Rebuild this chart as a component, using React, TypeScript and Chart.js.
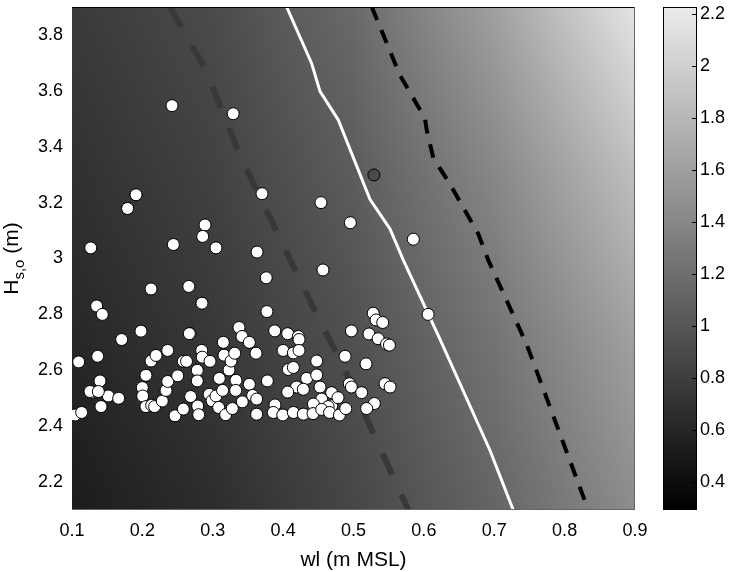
import React, { useEffect, useRef } from "react";
import { Chart, registerables } from "chart.js";
Chart.register(...registerables);

// ---- axes / ticks ----
const X_MIN = 0.1, X_MAX = 0.9;
const Y_MIN = 2.1, Y_MAX = 3.9;
const CB_MIN = 0.292, CB_MAX = 2.227;
const xTicks = [0.1, 0.2, 0.3, 0.4, 0.5, 0.6, 0.7, 0.8, 0.9];
const yTicks = [2.2, 2.4, 2.6, 2.8, 3.0, 3.2, 3.4, 3.6, 3.8];
const cbTicks = [0.4, 0.6, 0.8, 1.0, 1.2, 1.4, 1.6, 1.8, 2.0, 2.2];

// ---- background field (value grid read from the shading) ----
const fieldWl = [0.1, 0.3, 0.5, 0.7, 0.9];
const fieldHs = [2.1, 2.7, 3.3, 3.9];
const fieldRowHs21 = [0.52, 0.66, 0.87, 1.12, 1.45];
const fieldRowHs27 = [0.61, 0.75, 0.95, 1.24, 1.61];
const fieldRowHs33 = [0.69, 0.83, 1.05, 1.40, 1.86];
const fieldRowHs39 = [0.77, 0.91, 1.16, 1.61, 2.17];
const fieldRows = [fieldRowHs21, fieldRowHs27, fieldRowHs33, fieldRowHs39];

// ---- observations (white dots) ----
const obsWl = [
  0.1043, 0.1137, 0.1095, 0.1266, 0.135, 0.143, 0.1365, 0.1398, 0.1256, 0.1412, 0.1516, 0.1663, 0.1706, 0.179, 0.191, 0.198, 0.1374,
  0.2051, 0.1999, 0.2004, 0.2051, 0.2132, 0.2174, 0.2283, 0.2336, 0.236, 0.2123, 0.2194, 0.236, 0.2502, 0.2464, 0.2582, 0.2582, 0.2627,
  0.2677, 0.2686, 0.278, 0.278, 0.2843, 0.2851, 0.2786, 0.28, 0.2961, 0.295, 0.299, 0.3046, 0.3084, 0.3093, 0.314, 0.315, 0.316,
  0.3184, 0.3231, 0.326, 0.3278, 0.3312, 0.333, 0.3326, 0.3373, 0.3416, 0.342, 0.352, 0.352, 0.3567, 0.3615,
  0.377, 0.388, 0.4065, 0.4216, 0.4226, 0.400, 0.4145, 0.4226, 0.4074, 0.4145, 0.3776, 0.4335, 0.4477, 0.4477, 0.4524, 0.419, 0.4287,
  0.4065, 0.3624, 0.3884, 0.4548, 0.469, 0.469, 0.478, 0.464, 0.443, 0.3624, 0.386, 0.3995, 0.4145, 0.4287, 0.4425, 0.4548, 0.466, 0.48,
  0.488, 0.497, 0.5178, 0.494, 0.497, 0.5116, 0.5296, 0.5187, 0.489, 0.528, 0.532, 0.5415, 0.522, 0.535, 0.547, 0.551, 0.5448, 0.552,
  0.606,
  0.2421, 0.329, 0.191, 0.179, 0.1266, 0.244, 0.289, 0.2857, 0.3046, 0.266, 0.2123, 0.2847, 0.2667, 0.37, 0.363, 0.376, 0.4538, 0.4955,
  0.585, 0.4566,
];
const obsHs = [
  2.44, 2.449, 2.63, 2.52, 2.83, 2.80, 2.65, 2.562, 2.524, 2.47, 2.508, 2.50, 2.71, 3.179, 3.228, 2.74, 2.524,
  2.582, 2.538, 2.508, 2.47, 2.475, 2.47, 2.49, 2.528, 2.56, 2.633, 2.653, 2.671, 2.58, 2.437, 2.461, 2.632, 2.632,
  2.732, 2.506, 2.60, 2.562, 2.671, 2.647, 2.472, 2.441, 2.632, 2.514, 2.491, 2.508, 2.467, 2.571, 2.528, 2.70, 2.654,
  2.441, 2.601, 2.633, 2.463, 2.661, 2.564, 2.528, 2.753, 2.721, 2.487, 2.70, 2.55, 2.51, 2.661,
  2.81, 2.741, 2.731, 2.721, 2.71, 2.671, 2.662, 2.671, 2.603, 2.61, 2.562, 2.571, 2.583, 2.633, 2.54, 2.54, 2.532,
  2.522, 2.497, 2.476, 2.497, 2.52, 2.473, 2.502, 2.47, 2.479, 2.443, 2.449, 2.44, 2.449, 2.443, 2.445, 2.46, 2.449, 2.44,
  2.65, 2.741, 2.623, 2.552, 2.54, 2.52, 2.481, 2.463, 2.463, 2.804, 2.78, 2.771, 2.73, 2.713, 2.694, 2.69, 2.552, 2.54,
  2.80,
  3.547, 3.518, 3.228, 3.179, 3.038, 3.05, 3.12, 3.079, 3.038, 2.9, 2.891, 2.84, 2.731, 3.232, 3.023, 2.931, 3.2, 3.128,
  3.069, 2.959,
];
// highlighted event (dark dot)
const eventWl = [0.529];
const eventHs = [3.299];

// ---- threshold lines ----
const grayLineWl = [0.239, 0.289, 0.339, 0.44, 0.485, 0.5405, 0.578];
const grayLineHs = [3.9, 3.68, 3.367, 2.838, 2.615, 2.306, 2.1];
const whiteLineWl = [0.405, 0.4406, 0.4524, 0.4784, 0.5234, 0.5519, 0.5708, 0.623, 0.694, 0.727];
const whiteLineHs = [3.9, 3.698, 3.598, 3.496, 3.212, 3.106, 2.994, 2.711, 2.313, 2.1];
const blackLineWl = [0.526, 0.566, 0.6015, 0.604, 0.6134, 0.6371, 0.6773, 0.6915, 0.746, 0.8336];
const blackLineHs = [3.9, 3.656, 3.502, 3.46, 3.36, 3.266, 3.088, 2.994, 2.693, 2.1];

const FONT = "'Liberation Sans', Arial, Helvetica, sans-serif";
const GRAY_TOP = 235;

function pts(xs: number[], ys: number[]) {
  return xs.map((x, i) => ({ x, y: ys[i] }));
}

function findCell(arr: number[], v: number) {
  let i = 0;
  while (i < arr.length - 2 && v > arr[i + 1]) i++;
  const t = Math.min(1, Math.max(0, (v - arr[i]) / (arr[i + 1] - arr[i])));
  return [i, t] as const;
}

function fieldAt(wl: number, hs: number) {
  const [i, tx] = findCell(fieldWl, wl);
  const [j, ty] = findCell(fieldHs, hs);
  const a = fieldRows[j][i], b = fieldRows[j][i + 1];
  const c = fieldRows[j + 1][i], d = fieldRows[j + 1][i + 1];
  const lo = a + (b - a) * tx;
  const hi = c + (d - c) * tx;
  return lo + (hi - lo) * ty;
}

function grayOf(v: number) {
  const t = Math.min(1, Math.max(0, (v - CB_MIN) / (CB_MAX - CB_MIN)));
  return Math.round(t * GRAY_TOP);
}

const fieldPlugin = {
  id: "fieldPlugin",
  beforeDatasetsDraw(chart: any) {
    const { ctx, chartArea, scales } = chart;
    const { left, right, top, bottom } = chartArea;
    const xs = scales.x, ys = scales.y, cb = scales.cb;
    const dpr = chart.currentDevicePixelRatio || 1;
    const w = Math.round((right - left) * dpr);
    const h = Math.round((bottom - top) * dpr);
    const img = ctx.createImageData(w, h);
    for (let py = 0; py < h; py++) {
      const hs = ys.getValueForPixel(top + (py + 0.5) / dpr);
      for (let px = 0; px < w; px++) {
        const wl = xs.getValueForPixel(left + (px + 0.5) / dpr);
        const g = grayOf(fieldAt(wl, hs));
        const k = (py * w + px) * 4;
        img.data[k] = g; img.data[k + 1] = g; img.data[k + 2] = g; img.data[k + 3] = 255;
      }
    }
    ctx.putImageData(img, Math.round(left * dpr), Math.round(top * dpr));

    // colour bar
    const bx0 = right + 28, bx1 = right + 62;
    for (let py = top; py < bottom; py++) {
      const v = cb.getValueForPixel(py + 0.5);
      const g = grayOf(v);
      ctx.fillStyle = `rgb(${g},${g},${g})`;
      ctx.fillRect(bx0, py, bx1 - bx0, 1);
    }
    ctx.save();
    ctx.strokeStyle = "#000";
    ctx.lineWidth = 1;
    ctx.strokeRect(bx0 + 0.5, top + 0.5, bx1 - bx0 - 1, bottom - top - 1);
    for (const t of cbTicks) {
      const y = Math.round(cb.getPixelForValue(t)) + 0.5;
      ctx.beginPath();
      ctx.moveTo(bx1 - 5, y);
      ctx.lineTo(bx1, y);
      ctx.stroke();
    }
    ctx.restore();
  },
  afterDatasetsDraw(chart: any) {
    const { ctx, chartArea } = chart;
    const { left, right, top, bottom } = chartArea;
    ctx.save();
    ctx.lineWidth = 1;
    ctx.strokeStyle = "#000";
    ctx.beginPath();
    ctx.moveTo(left, top + 0.5);
    ctx.lineTo(right, top + 0.5);
    ctx.stroke();
    ctx.strokeStyle = "#666";
    ctx.beginPath();
    ctx.moveTo(right - 0.5, top);
    ctx.lineTo(right - 0.5, bottom);
    ctx.moveTo(left, bottom - 0.5);
    ctx.lineTo(right, bottom - 0.5);
    ctx.stroke();
    ctx.restore();
  },
  afterDraw(chart: any) {
    const { ctx, chartArea } = chart;
    const { left, right, top, bottom } = chartArea;
    ctx.save();
    ctx.fillStyle = "#000";
    // x title
    ctx.font = `21px ${FONT}`;
    ctx.textAlign = "center";
    ctx.textBaseline = "alphabetic";
    ctx.fillText("wl (m MSL)", (left + right) / 2, 566);
    // y title with subscript
    const main = `21px ${FONT}`;
    const sub = `15px ${FONT}`;
    ctx.font = main;
    const wH = ctx.measureText("H").width;
    const wM = ctx.measureText(" (m)").width;
    ctx.font = sub;
    const wS = ctx.measureText("s,o").width;
    const total = wH + wS + wM;
    ctx.translate(18, (top + bottom) / 2);
    ctx.rotate(-Math.PI / 2);
    ctx.textAlign = "left";
    let x = -total / 2;
    ctx.font = main;
    ctx.fillText("H", x, 0);
    x += wH;
    ctx.font = sub;
    ctx.fillText("s,o", x, 6);
    x += wS;
    ctx.font = main;
    ctx.fillText(" (m)", x, 0);
    ctx.restore();
  },
};

function fmt(v: number) {
  return String(Math.round(v * 10) / 10);
}

export default function App() {
  const ref = useRef<HTMLCanvasElement | null>(null);
  useEffect(() => {
    document.body.style.margin = "0";
    const canvas = ref.current;
    if (!canvas) return;
    const chart = new Chart(canvas, {
      type: "scatter",
      data: {
        datasets: [
          {
            label: "event",
            data: pts(eventWl, eventHs),
            pointRadius: 6,
            pointBackgroundColor: "#4a4a4a",
            pointBorderColor: "#000",
            pointBorderWidth: 1,
            order: 0,
          },
          {
            label: "obs",
            data: pts(obsWl, obsHs),
            pointRadius: 6,
            pointBackgroundColor: "#ffffff",
            pointBorderColor: "#000",
            pointBorderWidth: 1,
            order: 1,
          },
          {
            label: "black",
            data: pts(blackLineWl, blackLineHs),
            showLine: true,
            pointRadius: 0,
            borderColor: "#000",
            borderWidth: 4,
            borderDash: [14, 11],
            borderCapStyle: "butt",
            order: 2,
          },
          {
            label: "white",
            data: pts(whiteLineWl, whiteLineHs),
            showLine: true,
            pointRadius: 0,
            borderColor: "#ffffff",
            borderWidth: 3,
            order: 3,
          },
          {
            label: "gray",
            data: pts(grayLineWl, grayLineHs),
            showLine: true,
            pointRadius: 0,
            borderColor: "#383838",
            borderWidth: 6,
            borderDash: [23, 22],
            borderCapStyle: "butt",
            order: 4,
          },
        ] as any,
      },
      options: {
        animation: false,
        responsive: false,
        events: [],
        layout: { padding: { top: 3, left: 0, right: 0, bottom: 0 } },
        plugins: { legend: { display: false }, tooltip: { enabled: false } },
        scales: {
          x: {
            type: "linear",
            position: "bottom",
            min: X_MIN,
            max: X_MAX,
            grid: { display: false, drawTicks: false },
            border: { display: false },
            afterBuildTicks: (s: any) => { s.ticks = xTicks.map((v) => ({ value: v })); },
            afterFit: (s: any) => { s.height = 62; s.paddingLeft = 0; s.paddingRight = 0; },
            ticks: { color: "#000", font: { family: FONT, size: 18 }, padding: 10, maxRotation: 0, autoSkip: false, callback: (v: any) => fmt(Number(v)) },
          },
          y: {
            type: "linear",
            position: "left",
            min: Y_MIN,
            max: Y_MAX,
            grid: { display: false, drawTicks: false },
            border: { display: false },
            afterBuildTicks: (s: any) => { s.ticks = yTicks.map((v) => ({ value: v })); },
            afterFit: (s: any) => { s.width = 72; s.paddingTop = 0; s.paddingBottom = 0; },
            ticks: { color: "#000", font: { family: FONT, size: 18 }, padding: 9, autoSkip: false, callback: (v: any) => fmt(Number(v)) },
          },
          cb: {
            type: "linear",
            position: "right",
            min: CB_MIN,
            max: CB_MAX,
            grid: { display: false, drawTicks: false },
            border: { display: false },
            afterBuildTicks: (s: any) => { s.ticks = cbTicks.map((v) => ({ value: v })); },
            afterFit: (s: any) => { s.width = 94; s.paddingTop = 0; s.paddingBottom = 0; },
            ticks: { color: "#000", font: { family: FONT, size: 18 }, padding: 65, autoSkip: false, callback: (v: any) => fmt(Number(v)) },
          },
        },
      } as any,
      plugins: [fieldPlugin],
    });
    return () => chart.destroy();
  }, []);
  return (
    <div style={{ width: 729, height: 572 }}>
      <canvas ref={ref} width={729} height={572} style={{ display: "block" }} />
    </div>
  );
}
